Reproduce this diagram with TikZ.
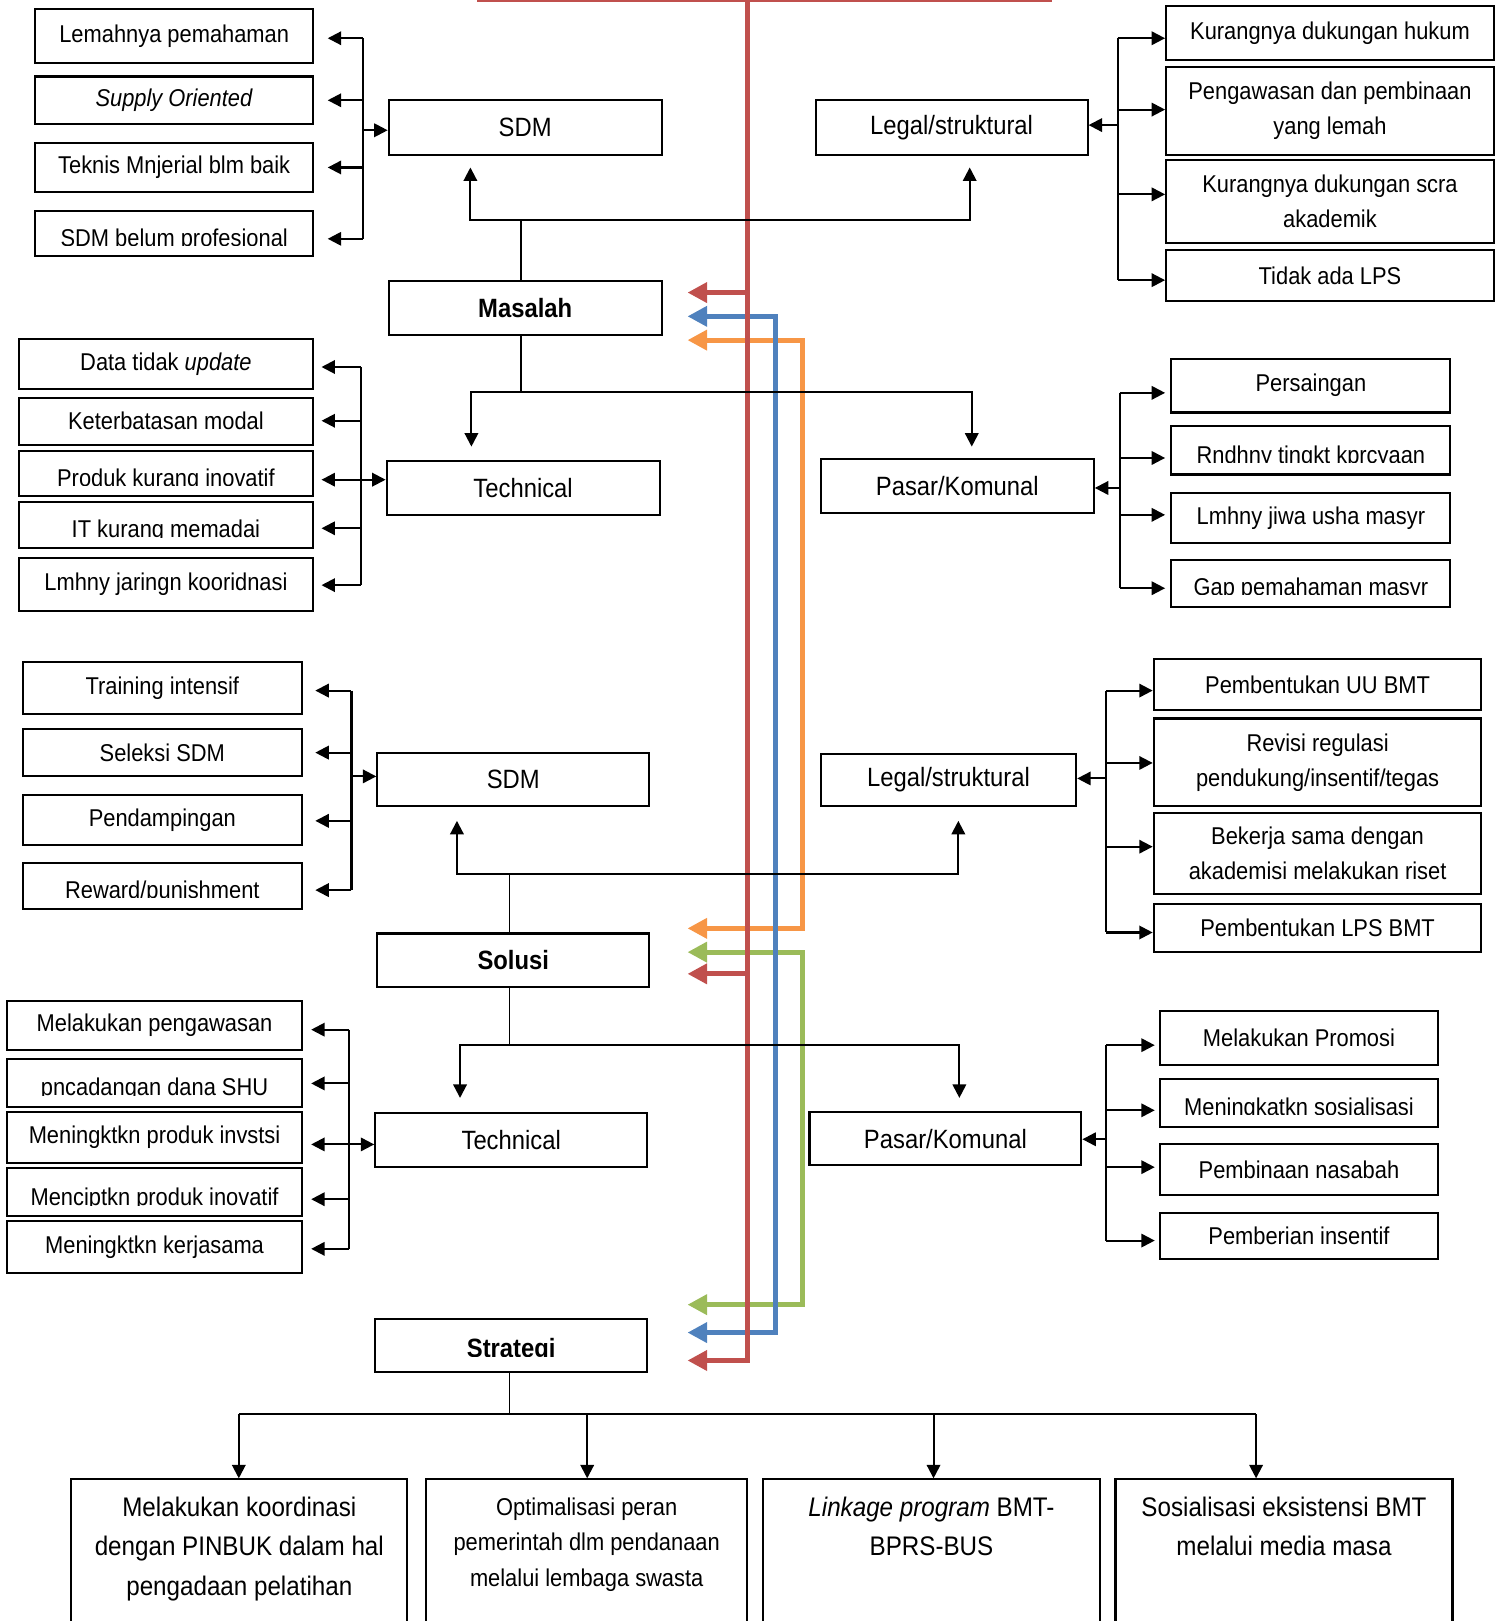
\documentclass[tikz,border=0pt]{standalone}
\usepackage{fontspec}
\setmainfont{Liberation Sans}[FakeStretch=0.9]
\usetikzlibrary{arrows.meta}
\newcommand\fsa{\fontsize{23.5pt}{34pt}\selectfont}
\newcommand\fma{\fontsize{25.6pt}{31pt}\selectfont}
\newcommand\fba{\fontsize{26pt}{38pt}\selectfont}
\definecolor{cred}{HTML}{C0504D}
\definecolor{cblue}{HTML}{4F81BD}
\definecolor{corange}{HTML}{F79646}
\definecolor{cgreen}{HTML}{9BBB59}
\tikzset{
  box/.style={draw, line width=2pt, inner sep=0pt, font=\fsa},
  mbox/.style={box, font=\fma},
  arr/.style={-{Triangle[length=13pt,width=13pt]}, line width=2pt},
  stem/.style={line width=1.5pt},
  spine/.style={line width=2pt},
  carr/.style={line width=5pt, {Triangle[length=19pt,width=19pt]}-{Triangle[length=19pt,width=19pt]}},
  carrone/.style={line width=5pt, -{Triangle[length=19pt,width=19pt]}},
  cut/.style n args={3}{path picture={
      \node[anchor=base, inner sep=0pt, font=#3] at ([yshift=#2]path picture bounding box.south) {#1};
      \fill[white] ([yshift=-3pt]path picture bounding box.south west) rectangle ([yshift=#2]path picture bounding box.south east);}},
}
% box from corners: options, name, x1, y1, x2, y2, text
\newcommand\bx[7]{%
  \pgfmathsetmacro\bw{#5-#3}%
  \pgfmathsetmacro\bh{#6-#4}%
  \pgfmathsetmacro\bcx{(#3+#5)/2}%
  \pgfmathsetmacro\bcy{(#4+#6)/2}%
  \node[box, minimum width=\bw pt, minimum height=\bh pt, #1] (#2) at (\bcx,\bcy) {#7};}
\begin{document}
\begin{tikzpicture}[x=1pt,y=-1pt]
\useasboundingbox (0,0) rectangle (1458,1568);
\clip (0,0) rectangle (1458,1568);

% ---------- boxes: problems ----------
\bx{}{a1}{34}{9}{303}{61}{Lemahnya pemahaman}
\bx{}{a2}{34}{74}{303}{120}{\textit{Supply Oriented}}
\bx{}{a3}{34}{138}{303}{186}{Teknis Mnjerial blm baik}
\bx{cut={SDM belum profesional}{10pt}{\fsa}}{a4}{34}{204}{303}{248}{}

\bx{mbox}{sdm1}{376}{97}{640}{150}{SDM}
\bx{mbox}{leg1}{789}{97}{1052}{150}{Legal/struktural}

\bx{}{b1}{1128}{6}{1445}{58}{Kurangnya dukungan hukum}
\bx{align=center}{b2}{1128}{65}{1445}{150}{Pengawasan dan pembinaan\\yang lemah}
\bx{align=center}{b3}{1128}{155}{1445}{235}{Kurangnya dukungan scra\\akademik}
\bx{}{b4}{1128}{242}{1445}{291}{Tidak ada LPS}

\bx{mbox}{mas}{376}{272}{640}{324}{\textbf{Masalah}}

\bx{mbox}{tech1}{374}{446}{638}{498}{Technical}
\bx{mbox}{pas1}{794}{444}{1058}{496}{Pasar/Komunal}

\bx{}{c1}{18}{328}{303}{376}{Data tidak \textit{update}}
\bx{}{c2}{18}{385}{303}{430}{Keterbatasan modal}
\bx{cut={Produk kurang inovatif}{9.5pt}{\fsa}}{c3}{18}{436}{303}{480}{}
\bx{cut={IT kurang memadai}{10pt}{\fsa}}{c4}{18}{486}{303}{530}{}
\bx{}{c5}{18}{540}{303}{591}{Lmhny jaringn kooridnasi}

\bx{}{d1}{1133}{347}{1403}{399}{Persaingan}
\bx{cut={Rndhny tingkt kprcyaan}{11pt}{\fsa}}{d2}{1133}{412}{1403}{459}{}
\bx{}{d3}{1133}{477}{1403}{525}{Lmhny jiwa usha masyr}
\bx{cut={Gap pemahaman masyr}{11pt}{\fsa}}{d4}{1133}{542}{1403}{587}{}

% ---------- boxes: solutions ----------
\bx{}{e1}{22}{640}{292}{691}{Training intensif}
\bx{}{e2}{22}{705}{292}{751}{Seleksi SDM}
\bx{}{e3}{22}{769}{292}{817}{Pendampingan}
\bx{cut={Reward/punishment}{10pt}{\fsa}}{e4}{22}{835}{292}{879}{}

\bx{mbox}{sdm2}{365}{728}{628}{780}{SDM}
\bx{mbox}{leg2}{794}{729}{1041}{780}{Legal/struktural}

\bx{}{f1}{1116}{637}{1433}{687}{Pembentukan UU BMT}
\bx{align=center}{f2}{1116}{695}{1433}{780}{Revisi regulasi\\pendukung/insentif/tegas}
\bx{align=center}{f3}{1116}{786}{1433}{865}{Bekerja sama dengan\\akademisi melakukan riset}
\bx{}{f4}{1116}{874}{1433}{921}{Pembentukan LPS BMT}

\bx{mbox}{sol}{365}{903}{628}{955}{\textbf{Solusi}}

\bx{mbox}{tech2}{363}{1077}{626}{1129}{Technical}
\bx{mbox}{pas2}{783}{1076}{1046}{1127}{Pasar/Komunal}

\bx{}{g1}{7}{968}{292}{1016}{Melakukan pengawasan}
\bx{cut={pncadangan dana SHU}{11pt}{\fsa}}{g2}{7}{1024}{292}{1071}{}
\bx{}{g3}{7}{1076}{292}{1125}{Meningktkn produk invstsi}
\bx{cut={Menciptkn produk inovatif}{9.5pt}{\fsa}}{g4}{7}{1130}{292}{1176}{}
\bx{}{g5}{7}{1181}{292}{1231}{Meningktkn kerjasama}

\bx{}{h1}{1122}{978}{1391}{1030}{Melakukan Promosi}
\bx{cut={Meningkatkn sosialisasi}{11pt}{\fsa}}{h2}{1122}{1044}{1391}{1090}{}
\bx{}{h3}{1122}{1107}{1391}{1156}{Pembinaan nasabah}
\bx{}{h4}{1122}{1173}{1391}{1218}{Pemberian insentif}

\bx{mbox, cut={\textbf{Strategi}}{14pt}{\fma}}{str}{363}{1276}{626}{1327}{}

% ---------- strategy boxes ----------
\bx{}{k1}{69}{1431}{394}{1600}{}
\bx{}{k2}{412}{1431}{723}{1600}{}
\bx{}{k3}{738}{1431}{1064}{1600}{}
\bx{}{k4}{1079}{1431}{1405}{1600}{}
\node[anchor=north, align=center, inner sep=0pt, font=\fba] (k1t) at (k1.north |- 0,1448) {Melakukan koordinasi\\dengan PINBUK dalam hal\\pengadaan pelatihan};
\node[anchor=north, align=center, inner sep=0pt, font=\fsa] (k2t) at (k2.north |- 0,1449) {Optimalisasi peran\\pemerintah dlm pendanaan\\melalui lembaga swasta};
\node[anchor=north, align=center, inner sep=0pt, font=\fba] (k3t) at (k3.north |- 0,1448) {\textit{Linkage program} BMT-\\BPRS-BUS};
\node[anchor=north, align=center, inner sep=0pt, font=\fba] (k4t) at (k4.north |- 0,1448) {Sosialisasi eksistensi BMT\\melalui media masa};

% ---------- coloured flow lines ----------
\coordinate (ga) at (665,921); \coordinate (gb) at (776,921);
\coordinate (gc) at (776,1262); \coordinate (gd) at (665,1262);
\draw[cgreen, carr] (ga) -- (gb) -- (gc) -- (gd);
\coordinate (oa) at (665,329); \coordinate (ob) at (776,329);
\coordinate (oc) at (776,898); \coordinate (od) at (665,898);
\draw[corange, carr] (oa) -- (ob) -- (oc) -- (od);
\coordinate (ba) at (665,306); \coordinate (bb) at (750,306);
\coordinate (bc) at (750,1289); \coordinate (bd) at (665,1289);
\draw[cblue, carr] (ba) -- (bb) -- (bc) -- (bd);
\coordinate (ra) at (723,0); \coordinate (rb) at (723,1316); \coordinate (rc) at (665,1316);
\coordinate (r1) at (723,283); \coordinate (r1t) at (665,283);
\coordinate (r2) at (723,942); \coordinate (r2t) at (665,942);
\draw[cred, carrone] (r1) -- (r1t);
\draw[cred, carrone] (r2) -- (r2t);
\draw[cred, carrone] (ra) -- (rb) -- (rc);
\coordinate (rl) at (461,0.5); \coordinate (rr) at (1018,0.5);
\draw[cred, line width=2pt] (rl) -- (rr);

% ---------- brackets: problems ----------
\coordinate (s1t) at (351,37); \coordinate (s1b) at (351,231);
\draw[spine] (s1t) -- (s1b);
\foreach \n/\y in {a1/37,a2/97,a3/162,a4/231}{
  \coordinate (t) at (351,\y); \draw[arr, shorten >=13pt] (t) -- (t -| \n.east);}
\coordinate (t) at (351,126); \draw[arr] (t) -- (t -| sdm1.west);

\coordinate (s2t) at (1081,37); \coordinate (s2b) at (1081,271);
\draw[spine] (s2t) -- (s2b);
\foreach \n/\y in {b1/37,b2/106,b3/188,b4/271}{
  \coordinate (t) at (1081,\y); \draw[arr] (t) -- (t -| \n.west);}
\coordinate (t) at (1081,121); \draw[arr] (t) -- (t -| leg1.east);

\coordinate (s3t) at (349,355); \coordinate (s3b) at (349,566);
\draw[spine] (s3t) -- (s3b);
\foreach \n/\y in {c1/355,c2/407,c3/464,c4/511,c5/566}{
  \coordinate (t) at (349,\y); \draw[arr, shorten >=7pt] (t) -- (t -| \n.east);}
\coordinate (t) at (349,464); \draw[arr] (t) -- (t -| tech1.west);

\coordinate (s4t) at (1083,380); \coordinate (s4b) at (1083,569);
\draw[spine] (s4t) -- (s4b);
\foreach \n/\y in {d1/380,d2/443,d3/498,d4/569}{
  \coordinate (t) at (1083,\y); \draw[arr, shorten >=5pt] (t) -- (t -| \n.west);}
\coordinate (t) at (1083,472); \draw[arr] (t) -- (t -| pas1.east);

% ---------- brackets: solutions ----------
\coordinate (s5t) at (340,668); \coordinate (s5b) at (340,861);
\draw[spine] (s5t) -- (s5b);
\foreach \n/\y in {e1/668,e2/728,e3/794,e4/861}{
  \coordinate (t) at (340,\y); \draw[arr, shorten >=12pt] (t) -- (t -| \n.east);}
\coordinate (t) at (340,751); \draw[arr] (t) -- (t -| sdm2.west);

\coordinate (s6t) at (1070,668); \coordinate (s6b) at (1070,902);
\draw[spine] (s6t) -- (s6b);
\foreach \n/\y in {f1/668,f2/738,f3/819,f4/902}{
  \coordinate (t) at (1070,\y); \draw[arr] (t) -- (t -| \n.west);}
\coordinate (t) at (1070,753); \draw[arr] (t) -- (t -| leg2.east);

\coordinate (s7t) at (338,996); \coordinate (s7b) at (338,1208);
\draw[spine] (s7t) -- (s7b);
\foreach \n/\y in {g1/996,g2/1048,g3/1107,g4/1160,g5/1208}{
  \coordinate (t) at (338,\y); \draw[arr, shorten >=8pt] (t) -- (t -| \n.east);}
\coordinate (t) at (338,1107); \draw[arr] (t) -- (t -| tech2.west);

\coordinate (s8t) at (1070,1011); \coordinate (s8b) at (1070,1200);
\draw[spine] (s8t) -- (s8b);
\foreach \n/\y in {h1/1011,h2/1074,h3/1129,h4/1200}{
  \coordinate (t) at (1070,\y); \draw[arr, shorten >=4pt] (t) -- (t -| \n.west);}
\coordinate (t) at (1070,1102); \draw[arr] (t) -- (t -| pas2.east);

% ---------- tree connectors ----------
\coordinate (j1) at (504,213); \coordinate (u1) at (455,162); \coordinate (u2) at (938,162);
\draw[stem] (j1 |- mas.north) -- (j1);
\draw[arr] (j1) -| (u1); \draw[arr] (j1) -| (u2);

\coordinate (j2) at (504,379); \coordinate (v1) at (456,432); \coordinate (v2) at (940,432);
\draw[stem] (j2 |- mas.south) -- (j2);
\draw[arr] (j2) -| (v1); \draw[arr] (j2) -| (v2);

\coordinate (j3) at (493,845); \coordinate (w1) at (442,794); \coordinate (w2) at (927,794);
\draw[stem] (j3 |- sol.north) -- (j3);
\draw[arr] (j3) -| (w1); \draw[arr] (j3) -| (w2);

\coordinate (j4) at (493,1011); \coordinate (x1) at (445,1062); \coordinate (x2) at (928,1062);
\draw[stem] (j4 |- sol.south) -- (j4);
\draw[arr] (j4) -| (x1); \draw[arr] (j4) -| (x2);

\coordinate (j5) at (493,1368);
\draw[stem] (j5 |- str.south) -- (j5);
\coordinate (y1) at (231,1368); \coordinate (y4) at (1215,1368);
\draw[spine] (y1) -- (y4);
\foreach \n/\x in {k1/231,k2/568,k3/903,k4/1215}{
  \coordinate (t) at (\x,1368); \draw[arr] (t) -- (t |- \n.north);}
\end{tikzpicture}
\end{document}
